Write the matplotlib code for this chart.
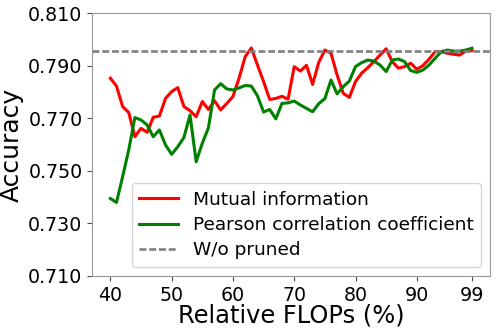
import matplotlib
matplotlib.use("Agg")
import matplotlib.pyplot as plt
import numpy as np

flops = list(range(40, 100))

mutual_info = [
    0.7853, 0.7823, 0.7745, 0.7722, 0.7630, 0.7662, 0.7647, 0.7704, 0.7709, 0.7776,
    0.7802, 0.7817, 0.7745, 0.7729, 0.7706, 0.7764, 0.7734, 0.7767, 0.7732, 0.7757,
    0.7783, 0.7853, 0.7935, 0.7968, 0.7903, 0.7840, 0.7772, 0.7776, 0.7784, 0.7773,
    0.7897, 0.7880, 0.7902, 0.7829, 0.7913, 0.7960, 0.7948, 0.7865, 0.7795, 0.7780,
    0.7840, 0.7872, 0.7893, 0.7916, 0.7941, 0.7965, 0.7916, 0.7891, 0.7897, 0.7910,
    0.7887, 0.7901, 0.7925, 0.7954, 0.7954, 0.7948, 0.7944, 0.7941, 0.7956, 0.7958,
]

pearson = [
    0.7395, 0.7380, 0.7478, 0.7580, 0.7703, 0.7694, 0.7675, 0.7630, 0.7656, 0.7599,
    0.7563, 0.7592, 0.7627, 0.7713, 0.7535, 0.7605, 0.7664, 0.7808, 0.7832, 0.7812,
    0.7808, 0.7816, 0.7825, 0.7823, 0.7786, 0.7724, 0.7734, 0.7698, 0.7757, 0.7759,
    0.7766, 0.7751, 0.7738, 0.7725, 0.7756, 0.7775, 0.7846, 0.7793, 0.7821, 0.7842,
    0.7897, 0.7912, 0.7922, 0.7918, 0.7903, 0.7878, 0.7922, 0.7926, 0.7916, 0.7882,
    0.7875, 0.7884, 0.7903, 0.7929, 0.7954, 0.7960, 0.7956, 0.7956, 0.7960, 0.7967,
]

baseline = 0.7958

xtick_vals = [40, 50, 60, 70, 80, 90, 99]
ytick_vals = [0.710, 0.730, 0.750, 0.770, 0.790, 0.810]

fig = plt.figure(figsize=(4.98, 3.32), dpi=100)
ax = fig.add_axes([0.1853, 0.1687, 0.7987, 0.7913])

ax.plot(flops, mutual_info, color="red", lw=2.2, label="Mutual information")
ax.plot(flops, pearson, color="green", lw=2.2, label="Pearson correlation coefficient")
ax.axhline(baseline, color="gray", lw=1.9, linestyle=(0, (2.6, 1.1)), label="W/o pruned")

ax.set_ylim(0.71, 0.81)
ax.set_xticks(xtick_vals)
ax.set_yticks(ytick_vals)
ax.set_yticklabels([f"{v:.3f}" for v in ytick_vals])
ax.tick_params(labelsize=13.7, color="0.3")
for s in ax.spines.values():
    s.set_color("0.6")
ax.set_xlabel("Relative FLOPs (%)", fontsize=17.4, labelpad=-1)
ax.set_ylabel("Accuracy", fontsize=18, labelpad=3)
ax.legend(loc="lower right", fontsize=13.3, labelspacing=0.4, handlelength=2.1)

fig.savefig("out.png", dpi=100)
